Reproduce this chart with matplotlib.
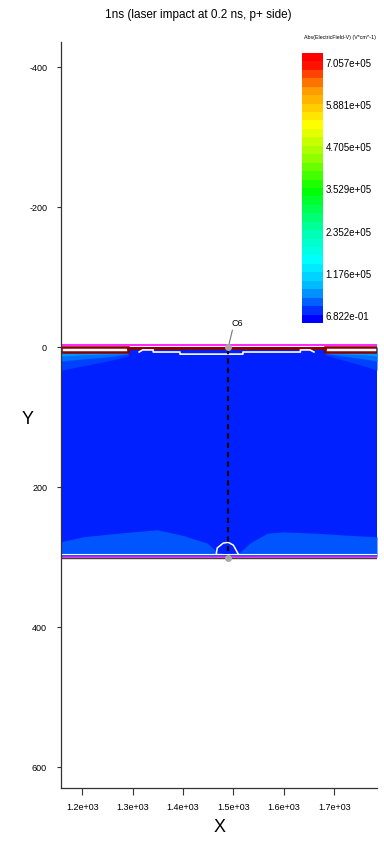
import numpy as np
import matplotlib.pyplot as plt
import matplotlib as mpl
from matplotlib.colors import LinearSegmentedColormap, Normalize
from matplotlib.patches import Rectangle

plt.rcParams['font.family'] = ['Liberation Sans Narrow', 'Liberation Sans', 'DejaVu Sans']

# view window (um)
x_lim = (1158, 1785)
y_lim = (630, -436)
sensor_depth = 300

# p+ implant strips on the front side
strip_left = (1158, 1291)
strip_right = (1682, 1785)
strip_depth = 7

# lighter field region above the back side
back_x = [1158, 1202, 1269, 1349, 1400, 1448, 1468, 1490, 1513, 1533, 1567, 1599, 1666, 1732, 1785]
back_y = [278, 271, 266, 261, 269, 280, 293, 296, 293, 280, 266, 264, 266, 269, 271]

# white contour round the back-side probe
bump_x = [1466, 1468, 1480, 1490, 1500, 1510]
bump_y = [296, 287, 280, 279, 283, 296]

# field layers under the strips (depth of each layer)
left_x = [1158, 1200, 1250, 1291]
left_a = [33, 27, 20, 13]
left_b = [20, 17, 14, 10]
left_c = [13, 11, 10, 9]
right_x = [1682, 1720, 1760, 1785]
right_a = [11, 19, 27, 33]
right_b = [9, 13, 17, 20]
right_c = [9, 10, 11, 13]

# stepped contour below the front surface
front_cont_x = [1313, 1320, 1341, 1341, 1394, 1394, 1519, 1519, 1633, 1633, 1652, 1660]
front_cont_y = [7, 4, 4, 7, 7, 10, 10, 7, 7, 4, 4, 7]

# probe line
probe_x = 1490

x_ticks = [1200, 1300, 1400, 1500, 1600, 1700]
y_ticks = [-400, -200, 0, 200, 400, 600]

cb_ticks = [6.822e-01, 1.176e+05, 2.352e+05, 3.529e+05, 4.705e+05, 5.881e+05, 7.057e+05]
cb_range = (-19500, 733600)

cmap = LinearSegmentedColormap.from_list('field', [
    (0.0, '#0000ff'), (0.067, '#0064ff'), (0.12, '#00b4ff'), (0.22, '#00ffff'),
    (0.34, '#00ffaa'), (0.49, '#00ff00'), (0.61, '#8cff00'), (0.74, '#ffff00'),
    (0.88, '#ff9600'), (0.98, '#ff0000'), (1.0, '#ff0000')], N=32)

brown = '#8a0000'
magenta = '#ff00ff'

fig = plt.figure(figsize=(3.84, 8.43), dpi=100)
ax = fig.add_axes([61 / 384, 55 / 843, 316 / 384, 746 / 843])

# bulk field
ax.fill_between([x_lim[0], x_lim[1]], 2, sensor_depth, color='#0020ff', lw=0)
ax.fill_between(back_x, back_y, sensor_depth, color='#0055ff', lw=0)
ax.fill_between(left_x, 0, left_a, color='#0040ff', lw=0)
ax.fill_between(left_x, 0, left_b, color='#006eff', lw=0)
ax.fill_between(left_x, 0, left_c, color='#0096ff', lw=0)
ax.fill_between(right_x, 0, right_a, color='#0040ff', lw=0)
ax.fill_between(right_x, 0, right_b, color='#006eff', lw=0)
ax.fill_between(right_x, 0, right_c, color='#0096ff', lw=0)

# front side
for x0, x1 in [strip_left, strip_right]:
    ax.add_patch(Rectangle((x0, 0.5), x1 - x0, strip_depth - 0.5, fc='white', ec=brown, lw=1.8))
ax.plot([strip_left[1], strip_right[0]], [1.2, 1.2], color=brown, lw=2.2)
ax.plot(x_lim, [-3, -3], color=magenta, lw=1.2)
ax.plot(front_cont_x, front_cont_y, color='white', lw=1.2)

# back side
ax.plot(bump_x, bump_y, color='white', lw=1.1)
ax.plot(x_lim, [296, 296], color='white', lw=0.8)
ax.plot(x_lim, [298.6, 298.6], color=magenta, lw=1.0)
ax.plot(x_lim, [301.4, 301.4], color='#4a3a3a', lw=1.0)

# probe C6
ax.plot([probe_x, probe_x], [2, sensor_depth], color='black', lw=1.5, ls=(0, (2.5, 2)))
ax.plot([probe_x, 1498], [0, -24], color='#777777', lw=0.8)
ax.plot(probe_x, 0, 'o', color='#a8a8a8', ms=5, mec='none')
ax.plot(probe_x, 302, 'o', color='#a8a8a8', ms=5, mec='none')
ax.text(1508, -34, 'C6', fontsize=6.5, ha='center', va='center')

ax.set_xlim(x_lim)
ax.set_ylim(y_lim)
ax.set_xticks(x_ticks)
ax.set_xticklabels([f'{v:.1e}' for v in x_ticks], fontsize=6.5)
ax.set_yticks(y_ticks)
ax.set_yticklabels([str(v) for v in y_ticks], fontsize=6.5)
ax.tick_params(axis='x', length=5, width=0.8, pad=6, color='#333333')
ax.tick_params(axis='y', length=3, width=0.8, pad=7, color='#333333')
for side in ['top', 'right']:
    ax.spines[side].set_visible(False)
for side in ['left', 'bottom']:
    ax.spines[side].set_color('#333333')
    ax.spines[side].set_linewidth(0.9)

fig.text(220 / 384, 1 - 828 / 843, 'X', fontsize=13, ha='center', va='center')
fig.text(28 / 384, 1 - 420 / 843, 'Y', fontsize=13, ha='center', va='center')
fig.text(198 / 384, 1 - 15 / 843, '1ns (laser impact at 0.2 ns, p+ side)', fontsize=8.5,
         ha='center', va='center')

# colour legend
cax = fig.add_axes([302 / 384, 520 / 843, 21 / 384, 270 / 843])
cb = mpl.colorbar.ColorbarBase(cax, cmap=cmap, norm=Normalize(*cb_range), ticks=cb_ticks)
cb.outline.set_visible(False)
cb.ax.set_yticklabels([f'{v:.3e}' for v in cb_ticks], fontsize=7)
cb.ax.tick_params(length=0, pad=2)
fig.text(340 / 384, 1 - 38 / 843, 'Abs(ElectricField-V) (V*cm^-1)', fontsize=3.8,
         ha='center', va='center')

fig.savefig('out.png', dpi=100)
